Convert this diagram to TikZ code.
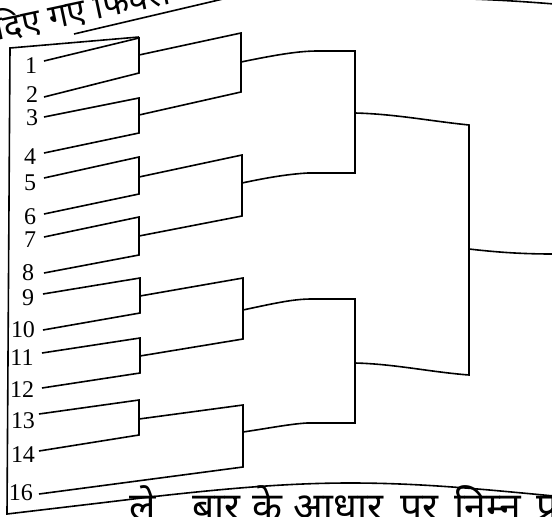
\documentclass[tikz,border=0pt]{standalone}
\usepackage{fontspec}
\newfontfamily\deva[Script=Devanagari]{Noto Sans}
\newfontfamily\numfont{Liberation Serif}
\begin{document}
\begin{tikzpicture}[x=1pt,y=-1pt,line width=1.6pt,line join=miter,
  lbl/.style={font=\numfont\fontsize{24}{24}\selectfont,inner sep=0pt},
  hindi/.style={font=\deva\fontsize{34}{34}\selectfont,inner sep=0pt}]
\useasboundingbox (0,0) rectangle (552,517);
\clip (0,0) rectangle (552,517);
% labels
\node[lbl] (l1) at (31,66) {1};
\node[lbl] (l2) at (32,95) {2};
\node[lbl] (l3) at (32,118) {3};
\node[lbl] (l4) at (30,157) {4};
\node[lbl] (l5) at (30,183) {5};
\node[lbl] (l6) at (30,217) {6};
\node[lbl] (l7) at (30,240) {7};
\node[lbl] (l8) at (28,273) {8};
\node[lbl] (l9) at (28,298) {9};
\node[lbl] (l10) at (23,330) {10};
\node[lbl] (l11) at (22,358) {11};
\node[lbl] (l12) at (22,390) {12};
\node[lbl] (l13) at (23,421) {13};
\node[lbl] (l14) at (23,455) {14};
\node[lbl] (l16) at (21,493) {16};
% line starts
\coordinate (s1) at (44,61);
\coordinate (s2) at (44,97);
\coordinate (s3) at (44,117);
\coordinate (s4) at (44,153);
\coordinate (s5) at (44,178);
\coordinate (s6) at (44,214);
\coordinate (s7) at (44,237);
\coordinate (s8) at (44,273);
\coordinate (s9) at (43,294);
\coordinate (s10) at (43,330);
\coordinate (s11) at (42,353);
\coordinate (s12) at (42,388);
\coordinate (s13) at (39,414);
\coordinate (s14) at (39,451);
\coordinate (s16) at (39,494);
% first round
\coordinate (a1) at (139,38);  \coordinate (a2) at (139,73);  \coordinate (m12) at (139,55);
\coordinate (a3) at (139,98);  \coordinate (a4) at (139,133); \coordinate (m34) at (139,115);
\coordinate (a5) at (139,157); \coordinate (a6) at (139,194); \coordinate (m56) at (139,177);
\coordinate (a7) at (139,217); \coordinate (a8) at (139,255); \coordinate (m78) at (139,236);
\coordinate (a9) at (140,278); \coordinate (a10) at (140,313); \coordinate (m910) at (140,296);
\coordinate (a11) at (140,338); \coordinate (a12) at (140,373); \coordinate (m1112) at (140,356);
\coordinate (a13) at (139,400); \coordinate (a14) at (139,435); \coordinate (m1314) at (139,419);
\draw (s1) -- (a1) -- (a2) -- (s2);
\draw (s3) -- (a3) -- (a4) -- (s4);
\draw (s5) -- (a5) -- (a6) -- (s6);
\draw (s7) -- (a7) -- (a8) -- (s8);
\draw (s9) -- (a9) -- (a10) -- (s10);
\draw (s11) -- (a11) -- (a12) -- (s12);
\draw (s13) -- (a13) -- (a14) -- (s14);
% second round
\coordinate (A1) at (241,33);  \coordinate (A2) at (241,92);  \coordinate (mA) at (241,62);
\coordinate (B1) at (242,155); \coordinate (B2) at (242,216); \coordinate (mB) at (242,183);
\coordinate (C1) at (243,278); \coordinate (C2) at (243,339); \coordinate (mC) at (243,310);
\coordinate (D1) at (243,405); \coordinate (D2) at (243,467); \coordinate (mD) at (243,432);
\draw (m12) -- (A1) -- (A2) -- (m34);
\draw (m56) -- (B1) -- (B2) -- (m78);
\draw (m910) -- (C1) -- (C2) -- (m1112);
\draw (m1314) -- (D1) -- (D2) -- (s16);
% third round
\coordinate (E1) at (355,51);  \coordinate (E2) at (355,173); \coordinate (mE) at (355,113);
\coordinate (F1) at (355,299); \coordinate (F2) at (355,423); \coordinate (mF) at (355,363);
\draw (mA) .. controls (280,54) and (300,51) .. (318,51) -- (E1) -- (E2) -- (308,173) .. controls (290,174) and (270,177) .. (mB);
\draw (mC) .. controls (280,302) and (295,299) .. (312,299) -- (F1) -- (F2) -- (307,423) .. controls (290,424) and (270,428) .. (mD);
% final
\coordinate (G1) at (469,125); \coordinate (G2) at (469,375); \coordinate (mG) at (469,249);
\coordinate (win) at (553,254);
\draw (mE) .. controls (395,114) and (430,121) .. (G1) -- (G2) .. controls (430,372) and (395,364) .. (mF);
\draw (mG) .. controls (495,252) and (520,254) .. (win);
% frame
\draw (139,37) -- (10,48) -- (7,514) -- (100,503) -- (150,497)
  .. controls (230,488) and (290,483) .. (350,483)
  .. controls (420,483) and (480,489) .. (554,496);
\draw (74,34) -- (240,-5);
\draw (470,-1) .. controls (500,0) and (530,2) .. (554,4);
% texts
\node[hindi,anchor=base west,rotate=12] (top) at (-3,41) {दिए गए फिक्सचर};
\node[hindi,anchor=base west,font=\deva\fontsize{39}{39}\selectfont] (bot) at (129,520)
  {ले\hspace{36pt}बार\hspace{12pt}के\hspace{11pt}आधार\hspace{17pt}पर\hspace{16pt}निम्न\hspace{15pt}प्रश्नों\hspace{14pt}के};
\end{tikzpicture}
\end{document}
